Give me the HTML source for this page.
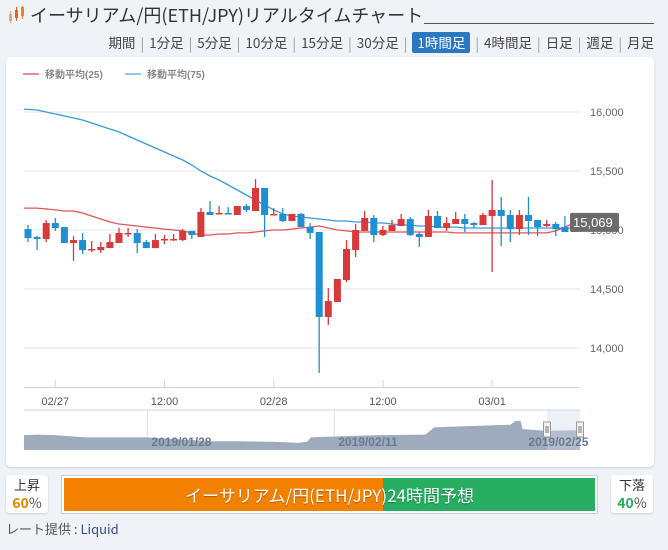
<!DOCTYPE html>
<html><head><meta charset="utf-8">
<style>
body{margin:0;width:668px;height:550px;background:#eff2f6;font-family:"Liberation Sans","Noto Sans CJK JP",sans-serif;position:relative;overflow:hidden}
.abs{position:absolute}
#title{left:30px;top:2px;font-size:18px;color:#333;white-space:nowrap;font-family:"Noto Sans CJK JP",sans-serif}
#uline{left:424px;top:23px;width:230px;height:1px;background:#555}
#tabs{right:14px;top:32px;font-size:13.5px;color:#444;white-space:nowrap;display:flex;align-items:center;font-family:"Noto Sans CJK JP",sans-serif}
#tabs span.t{padding:0 5px;line-height:21px}
#tabs span.s{color:#999}
#tabs span.act{background:#2a78c2;color:#fff;border-radius:2px;padding:0 5px;margin:0 5px;line-height:21px}
#card{left:6px;top:57px;width:648px;height:410px;background:#fff;border-radius:5px;box-shadow:0 1px 2px rgba(0,0,0,.15)}
.box{background:#fff;border-radius:3px;box-shadow:0 1px 2px rgba(0,0,0,.15);text-align:center;font-size:13px;color:#333;font-family:"Noto Sans CJK JP",sans-serif}
</style></head><body>
<svg class="abs" style="left:8px;top:6px" width="18" height="18" viewBox="0 0 18 18">
<rect x="1" y="8" width="3" height="7" fill="#f4a070"/><rect x="7" y="4" width="3" height="8" fill="#e8602a"/><rect x="13" y="1" width="3" height="9" fill="#f08020"/>
<line x1="2.5" y1="5" x2="2.5" y2="17" stroke="#f4a070"/><line x1="8.5" y1="1" x2="8.5" y2="15" stroke="#e8602a"/><line x1="14.5" y1="0" x2="14.5" y2="13" stroke="#f08020"/>
</svg>
<div id="title" class="abs">イーサリアム/円(ETH/JPY)リアルタイムチャート</div>
<div id="uline" class="abs"></div>
<div id="tabs" class="abs">
<span class="t">期間</span><span class="s">|</span>
<span class="t">1分足</span><span class="s">|</span>
<span class="t">5分足</span><span class="s">|</span>
<span class="t">10分足</span><span class="s">|</span>
<span class="t">15分足</span><span class="s">|</span>
<span class="t">30分足</span><span class="s">|</span>
<span class="act">1時間足</span><span class="s">|</span>
<span class="t">4時間足</span><span class="s">|</span>
<span class="t">日足</span><span class="s">|</span>
<span class="t">週足</span><span class="s">|</span>
<span class="t" style="padding-right:0">月足</span>
</div>
<div id="card" class="abs"></div>
<svg id="chart" class="abs" style="left:0;top:0" width="668" height="550"></svg>

<div class="abs box" style="left:6px;top:475px;width:42px;height:38px">
<div style="margin-top:1px;line-height:18px">上昇</div><div style="font-size:14px;font-weight:bold;color:#f08000;line-height:18px">60<span style="color:#555;font-weight:normal">%</span></div></div>
<div class="abs" style="left:61px;top:475px;width:535px;height:37px;border:1px solid #ccc;background:#fff">
<div class="abs" style="left:2px;top:2px;width:319px;height:33px;background:#f28100"></div>
<div class="abs" style="left:321px;top:2px;width:212px;height:33px;background:#27ae60"></div>
<div class="abs" style="left:0;top:0;width:535px;line-height:37px;text-align:center;color:#fff;font-size:17px;text-shadow:0 1px 1px rgba(0,0,0,.3);font-family:'Noto Sans CJK JP',sans-serif">イーサリアム/円(ETH/JPY)24時間予想</div>
</div>
<div class="abs box" style="left:611px;top:475px;width:42px;height:38px">
<div style="margin-top:1px;line-height:18px">下落</div><div style="font-size:14px;font-weight:bold;color:#27ae60;line-height:18px">40<span style="color:#555;font-weight:normal">%</span></div></div>
<div class="abs" style="left:6px;top:519px;font-size:13px;color:#555;font-family:'Noto Sans CJK JP',sans-serif">レート提供 : <span style="color:#3a4a8a">Liquid</span></div>

<script>
const opens=[15008,14941,14924,15059,15025,14890,14915,14830,14830,14847,14890,14966,14975,14898,14847,14915,14915,14915,14992,14941,15153,15136,15144,15127,15203,15161,15356,15127,15136,15076,15136,15025,14983,14263,14390,14576,14830,14992,15102,14958,14992,15034,15093,14966,14941,15119,15017,15051,15093,15059,15042,15119,15170,15127,15008,15127,15085,15034,15051,15025,14983];
const highs=[15042,14949,15085,15102,15025,14949,14975,14907,14898,14966,15017,15017,15008,14915,14966,14958,14966,15008,14992,15186,15246,15203,15195,15203,15220,15432,15356,15186,15186,15136,15144,15059,14983,14508,14585,14915,15051,15161,15127,15034,15085,15136,15110,14983,15170,15161,15110,15153,15136,15068,15144,15424,15280,15170,15170,15280,15085,15085,15068,15119,15069];
const lows=[14898,14830,14898,14992,14890,14737,14797,14814,14805,14847,14890,14941,14805,14847,14847,14881,14907,14907,14924,14941,15127,15136,15136,15127,15153,15161,14941,15127,15068,15076,15025,14924,13788,14195,14390,14559,14771,14992,14898,14949,14992,15034,14949,14856,14941,15017,14992,15051,14983,15017,15042,14644,14864,14898,14958,14958,14949,15025,14949,14983,14983];
const closes=[14932,14924,15059,15017,14890,14915,14830,14839,14856,14898,14975,14975,14890,14847,14915,14924,14924,14992,14958,15153,15127,15144,15136,15203,15170,15356,15127,15136,15076,15136,15025,14975,14263,14398,14585,14839,15000,15102,14958,15000,15042,15093,14958,14941,15119,15017,15059,15093,15051,15042,15127,15170,15119,15008,15127,15076,15025,15051,15008,14983,15069];
const ma25=[15186,15186,15178,15170,15161,15161,15144,15119,15093,15068,15051,15042,15034,15025,15017,15008,15000,14992,14975,14958,14958,14966,14966,14975,14975,14983,14992,15000,15000,15008,15017,15025,15034,15017,15000,14992,14983,14983,14983,14983,14983,14983,14983,14983,14983,14983,14983,14975,14975,14975,14975,14975,14975,14975,14975,14975,14975,14975,14992,15025,15059];
const ma75=[16025,16017,16000,15983,15966,15949,15932,15907,15881,15856,15831,15797,15763,15729,15695,15661,15627,15593,15551,15500,15458,15424,15381,15339,15297,15254,15212,15170,15136,15119,15110,15102,15093,15085,15076,15076,15068,15068,15059,15059,15051,15042,15042,15034,15034,15025,15025,15025,15017,15017,15017,15017,15017,15017,15017,15017,15017,15017,15017,15017,15017];
const yTicks=[14000,14500,15000,15500,16000];
const yTickLabels=["14,000","14,500","15,000","15,500","16,000"];
const xTickIdx=[3,15,27,39,51];
const xTickLabels=["02/27","12:00","02/28","12:00","03/01"];
const navValues=[15120,15130,15120,15080,15080,15040,15010,15010,15000,14980,15000,15080,15100,15120,15130,15260,15270,15310,15380,15380,15230,15200,15210];
const navPos=[0,0.025,0.056,0.11,0.222,0.286,0.34,0.387,0.448,0.493,0.509,0.516,0.57,0.645,0.722,0.738,0.76,0.875,0.884,0.893,0.897,0.937,1];
const navDateLabels=["2019/01/28","2019/02/11","2019/02/25"];
const navDatePos=[0.222,0.558,0.9];
const lastPrice=15069;

const NS="http://www.w3.org/2000/svg";
const svg=document.getElementById('chart');
function mk(tag,attrs,parent){const e=document.createElementNS(NS,tag);for(const k in attrs)e.setAttribute(k,attrs[k]);(parent||svg).appendChild(e);return e;}
const X0=28,DX=9.1;
function xs(i){return X0+i*DX;}
function ys(v){return 230-(v-15000)*0.118;}

yTicks.forEach((v,k)=>{
  const g=mk('line',{x1:24,x2:580,y1:ys(v),y2:ys(v),stroke:'#e6e6e6','stroke-width':1});
  
  
  const t=mk('text',{x:590,y:ys(v)+4,'font-size':11,fill:'#666','font-family':'Liberation Sans, sans-serif'});
  t.textContent=yTickLabels[k];
  
  
});
const l1=mk('line',{x1:23,x2:39,y1:74,y2:74,stroke:'#e98f8f','stroke-width':2});


const lt1=mk('text',{x:45,y:78,'font-size':10,'font-weight':'bold',fill:'#888','font-family':'Liberation Sans, Noto Sans CJK JP, sans-serif'});
lt1.textContent='移動平均(25)';


const l2=mk('line',{x1:125,x2:141,y1:74,y2:74,stroke:'#8ec8ea','stroke-width':2});


const lt2=mk('text',{x:147,y:78,'font-size':10,'font-weight':'bold',fill:'#888','font-family':'Liberation Sans, Noto Sans CJK JP, sans-serif'});
lt2.textContent='移動平均(75)';



function line(arr,color,name){
  const d=arr.map((v,i)=>(i?'L':'M')+(i===0?24:xs(i)).toFixed(1)+' '+ys(v).toFixed(1)).join(' ');
  const p=mk('path',{d:d,fill:'none',stroke:color,'stroke-width':1.3});
  
  
}
line(ma75,'#3a9ad9','ma75-line');
line(ma25,'#e05555','ma25-line');

opens.forEach((o,i)=>{
  const c=closes[i],up=c>=o,col=up?'#d9393a':'#1f8fd2';
  const x=xs(i);
  const w=mk('line',{x1:x,x2:x,y1:ys(highs[i]),y2:ys(lows[i]),stroke:col,'stroke-width':1.3});
  
  
  const top=ys(Math.max(o,c)),bot=ys(Math.min(o,c));
  const r=mk('rect',{x:x-3.5,y:top,width:7,height:Math.max(1.5,bot-top),fill:col});
  
  
});

const py=ys(lastPrice);
const pb=mk('rect',{x:570,y:py-9,width:49,height:19,rx:2,fill:'#6b6b6b'});


const pt=mk('text',{x:573,y:py+5,'font-size':13,fill:'#fff','font-family':'Liberation Sans, sans-serif'});
pt.textContent=lastPrice.toLocaleString('en-US');



const ax=mk('line',{x1:24,x2:580,y1:387.5,y2:387.5,stroke:'#ccd6eb'});


xTickIdx.forEach((idx,k)=>{
  const x=xs(idx);
  const tk=mk('line',{x1:x,x2:x,y1:380,y2:387.5,stroke:'#ccd6eb'});
  
  
  const t=mk('text',{x:x,y:405,'font-size':11,fill:'#555','text-anchor':'middle','font-family':'Liberation Sans, sans-serif'});
  t.textContent=xTickLabels[k];
  
  
});

const NX0=24,NX1=580,NYT=410,NYB=450;
function nx(p){return NX0+p*(NX1-NX0);}
function ny(v){return 450-(v-14850)*0.055;}
const nt=mk('line',{x1:NX0,x2:NX1,y1:NYT,y2:NYT,stroke:'#ccd6eb'});


navDatePos.forEach((p,k)=>{
  if(k<2){const gl=mk('line',{x1:nx(p),x2:nx(p),y1:NYT,y2:NYB,stroke:'#e0e0e0'});
  
  }
});
let nd='M'+NX0+' '+NYB+' '+navValues.map((v,i)=>'L'+nx(navPos[i]).toFixed(1)+' '+ny(v).toFixed(1)).join(' ')+' L'+NX1+' '+NYB+' Z';
const na=mk('path',{d:nd,fill:'#9eabbd'});


const sel=mk('rect',{x:547,y:NYT,width:33,height:40,fill:'rgba(210,218,230,0.4)'});


navDatePos.forEach((p,k)=>{
  const t=mk('text',{x:nx(p)+4,y:446,'font-size':12,'font-weight':'bold',fill:'#6a7a90','font-family':'Liberation Sans, sans-serif'});
  t.textContent=navDateLabels[k];
  
  
});
[547,580].forEach(hx=>{
  const h=mk('rect',{x:hx-3.5,y:422,width:7,height:15,fill:'#f2f2f2',stroke:'#999'});
  
  
  mk('line',{x1:hx-1,x2:hx-1,y1:426,y2:433,stroke:'#777'});
  mk('line',{x1:hx+1,x2:hx+1,y1:426,y2:433,stroke:'#777'});
});
</script>
</body></html>
